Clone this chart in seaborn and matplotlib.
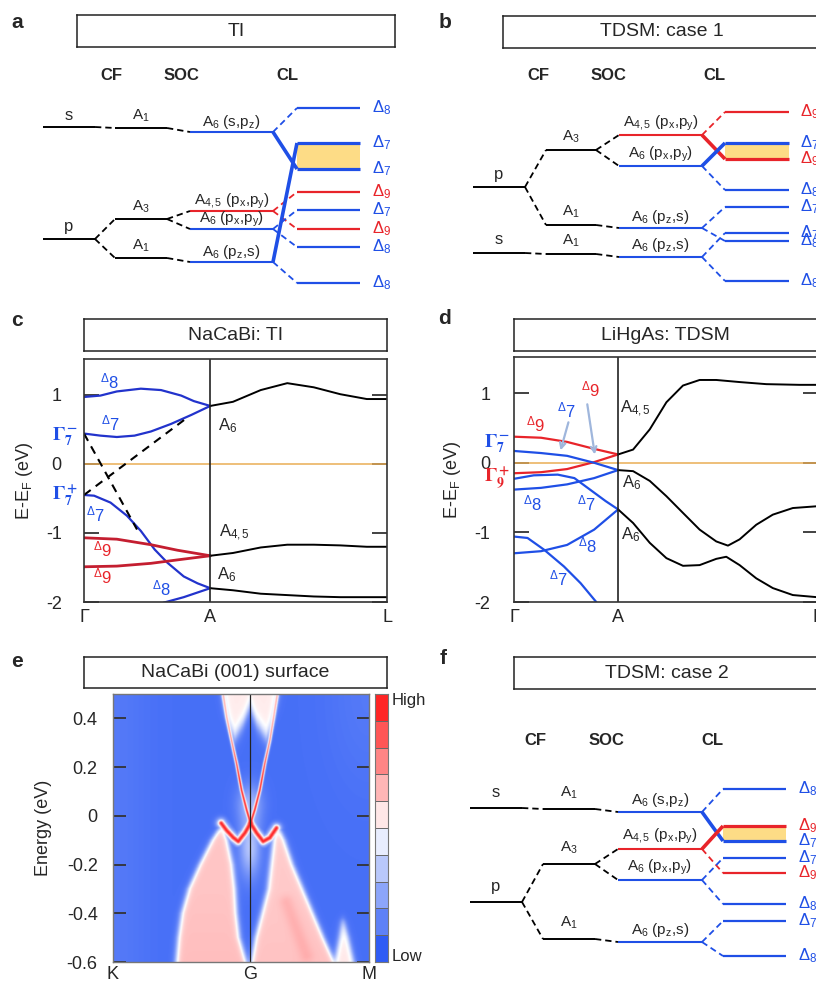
import numpy as np
import matplotlib
matplotlib.use('Agg')
import matplotlib.pyplot as plt
from matplotlib.colors import LinearSegmentedColormap, ListedColormap
import seaborn as sns

sns.set_style('white')
plt.rcParams['font.family'] = ['Liberation Sans', 'DejaVu Sans']
plt.rcParams['mathtext.fontset'] = 'custom'
plt.rcParams['mathtext.rm'] = 'Liberation Sans'
plt.rcParams['mathtext.it'] = 'Liberation Sans:italic'
plt.rcParams['mathtext.bf'] = 'Liberation Sans:bold'
plt.rcParams['mathtext.default'] = 'regular'
plt.rcParams['axes.unicode_minus'] = False

W, H = 816, 988
BLUE = '#1f4fe6'
RED = '#e8242a'
BAND_BLUE = '#2233cc'
BAND_RED = '#c41e30'
GAP = '#fddc86'
FERMI = '#e9ad55'
ARROW = '#9fb6dc'
COL = {'k': 'black', 'b': BLUE, 'r': RED}

# ---------------- level diagrams (energies in arbitrary units) ----------------
# panel a: TI
A_ATOM_E = [16.3, 5.1]
A_ATOM_LAB = ['s', 'p']
A_CF_E = [16.2, 7.1, 3.2]
A_CF_LAB = ['A$_1$', 'A$_3$', 'A$_1$']
A_SOC_E = [15.8, 7.9, 6.1, 2.8]
A_SOC_LAB = ['A$_6$ (s,p$_z$)', 'A$_{4,5}$ (p$_x$,p$_y$)', 'A$_6$ (p$_x$,p$_y$)', 'A$_6$ (p$_z$,s)']
A_SOC_COL = ['b', 'r', 'b', 'b']
A_CL_E = [18.2, 14.7, 12.1, 9.8, 8.0, 6.1, 4.3, 0.7]
A_CL_LAB = ['8', '7', '7', '9', '7', '9', '8', '8']
A_CL_COL = ['b', 'b', 'b', 'r', 'b', 'r', 'b', 'b']
A_LINK_AC = [(0, 0), (1, 1), (1, 2)]
A_LINK_CS = [(0, 0), (1, 1), (1, 2), (2, 3)]
A_LINK_SL = [(0, 0, 'd'), (0, 2, 's'), (1, 3, 'd'), (1, 5, 'd'),
             (2, 4, 'd'), (2, 6, 'd'), (3, 1, 's'), (3, 7, 'd')]

# panel b: TDSM case 1
B_ATOM_E = [10.3, 3.7]
B_ATOM_LAB = ['p', 's']
B_CF_E = [14.0, 6.5, 3.6]
B_CF_LAB = ['A$_3$', 'A$_1$', 'A$_1$']
B_SOC_E = [15.5, 12.4, 6.2, 3.3]
B_SOC_LAB = ['A$_{4,5}$ (p$_x$,p$_y$)', 'A$_6$ (p$_x$,p$_y$)', 'A$_6$ (p$_z$,s)', 'A$_6$ (p$_z$,s)']
B_SOC_COL = ['r', 'b', 'b', 'b']
B_CL_E = [17.8, 14.7, 13.1, 10.0, 8.3, 5.7, 4.9, 0.9]
B_CL_LAB = ['9', '7', '9', '8', '7', '7', '8', '8']
B_CL_COL = ['r', 'b', 'r', 'b', 'b', 'b', 'b', 'b']
B_LINK_AC = [(0, 0), (0, 1), (1, 2)]
B_LINK_CS = [(0, 0), (0, 1), (1, 2), (2, 3)]
B_LINK_SL = [(0, 0, 'd'), (0, 2, 's'), (1, 1, 's'), (1, 3, 'd'),
             (2, 4, 'd'), (2, 6, 'd'), (3, 5, 'd'), (3, 7, 'd')]

# panel f: TDSM case 2
F_ATOM_E = [16.2, 6.8]
F_ATOM_LAB = ['s', 'p']
F_CF_E = [16.1, 10.6, 3.1]
F_CF_LAB = ['A$_1$', 'A$_3$', 'A$_1$']
F_SOC_E = [15.8, 12.1, 9.0, 2.8]
F_SOC_LAB = ['A$_6$ (s,p$_z$)', 'A$_{4,5}$ (p$_x$,p$_y$)', 'A$_6$ (p$_x$,p$_y$)', 'A$_6$ (p$_z$,s)']
F_SOC_COL = ['b', 'r', 'b', 'b']
F_CL_E = [18.1, 14.4, 12.9, 11.2, 9.7, 6.6, 4.9, 1.4]
F_CL_LAB = ['8', '9', '7', '7', '9', '8', '7', '8']
F_CL_COL = ['b', 'r', 'b', 'b', 'r', 'b', 'b', 'b']
F_LINK_AC = [(0, 0), (1, 1), (1, 2)]
F_LINK_CS = [(0, 0), (1, 1), (1, 2), (2, 3)]
F_LINK_SL = [(0, 0, 'd'), (0, 2, 's'), (1, 1, 's'), (1, 4, 'd'),
             (2, 3, 'd'), (2, 5, 'd'), (3, 6, 'd'), (3, 7, 'd')]

# ---------------- band structures ----------------
# panel c: NaCaBi (Gamma=0, A=1, L=2.40)
C_D8_K = [0, 0.13, 0.26, 0.45, 0.61, 0.77, 0.87, 1.0]
C_D8_E = [0.97, 0.99, 1.05, 1.09, 1.07, 0.99, 0.91, 0.84]
C_D7U_K = [0, 0.13, 0.26, 0.40, 0.53, 0.69, 0.85, 1.0]
C_D7U_E = [0.44, 0.41, 0.39, 0.41, 0.47, 0.58, 0.71, 0.84]
C_D7L_K = [0, 0.08, 0.21, 0.34, 0.45, 0.56, 0.66, 0.79, 0.90, 1.0]
C_D7L_E = [-0.45, -0.46, -0.56, -0.75, -0.97, -1.24, -1.43, -1.63, -1.73, -1.80]
C_D9_K = [0, 0.26, 0.53, 0.74, 1.0]
C_D9U_E = [-1.07, -1.09, -1.17, -1.25, -1.33]
C_D9L_E = [-1.49, -1.48, -1.44, -1.39, -1.33]
C_D8L_K = [0.63, 0.79, 1.0]
C_D8L_E = [-2.01, -1.93, -1.80]
C_AL_K = [1.0, 1.18, 1.40, 1.61, 1.82, 2.03, 2.24, 2.40]
C_AL_TOP = [0.84, 0.90, 1.07, 1.17, 1.11, 1.01, 0.94, 0.94]
C_AL_MID = [-1.33, -1.29, -1.21, -1.17, -1.17, -1.18, -1.20, -1.20]
C_AL_BOT = [-1.80, -1.83, -1.88, -1.90, -1.92, -1.93, -1.93, -1.93]
C_DASH1_K, C_DASH1_E = [0, 0.42], [0.44, -0.95]
C_DASH2_K, C_DASH2_E = [0, 0.81], [-0.45, 0.66]

# panel d: LiHgAs (Gamma=0, A=1, L=2.905)
D_GA_K = [0, 0.26, 0.51, 0.77, 1.0]
D_D9U_E = [0.375, 0.36, 0.30, 0.20, 0.12]
D_G7_E = [0.17, 0.14, 0.10, 0.0, -0.105]
D_G9_E = [-0.15, -0.135, -0.09, 0.01, 0.12]
D_D8U_E = [-0.385, -0.36, -0.31, -0.22, -0.105]
D_D8L_E = [-1.30, -1.27, -1.18, -0.96, -0.67]
D_D7M_K = [0, 0.19, 0.42, 0.58, 0.73, 0.88, 1.0]
D_D7M_E = [-0.23, -0.18, -0.17, -0.22, -0.385, -0.55, -0.67]
D_D7L_K = [0, 0.13, 0.29, 0.48, 0.64, 0.79]
D_D7L_E = [-1.06, -1.08, -1.25, -1.49, -1.73, -2.0]
D_AL_K1 = [1.0, 1.144, 1.304, 1.464, 1.623, 1.783, 1.943, 2.167, 2.423, 2.742, 2.905]
D_AL_TOP = [0.12, 0.19, 0.48, 0.87, 1.11, 1.19, 1.19, 1.16, 1.13, 1.12, 1.12]
D_AL_K2 = [1.0, 1.144, 1.304, 1.464, 1.623, 1.783, 1.943, 2.055, 2.167, 2.327, 2.486, 2.678, 2.905]
D_AL_MID = [-0.105, -0.12, -0.26, -0.48, -0.72, -0.96, -1.13, -1.19, -1.10, -0.89, -0.745, -0.65, -0.625]
D_AL_K3 = [1.0, 1.144, 1.304, 1.464, 1.623, 1.783, 1.943, 2.039, 2.167, 2.327, 2.486, 2.678, 2.905]
D_AL_BOT = [-0.67, -0.865, -1.15, -1.37, -1.48, -1.47, -1.38, -1.35, -1.47, -1.66, -1.80, -1.90, -1.93]

# ---------------- surface spectrum features (K=0, G=1, M=1.87) ----------------
LOBE_L_E = [-0.6, -0.5, -0.4, -0.3, -0.2, -0.1, -0.035]
LOBE_L_OUT = [0.46, 0.475, 0.50, 0.55, 0.63, 0.72, 0.795]
LOBE_L_IN = [0.975, 0.925, 0.905, 0.895, 0.875, 0.838, 0.795]
LOBE_R_E = [-0.6, -0.5, -0.4, -0.3, -0.2, -0.1, -0.04]
LOBE_R_IN = [1.01, 1.04, 1.085, 1.13, 1.15, 1.17, 1.205]
LOBE_R_OUT = [1.62, 1.54, 1.465, 1.39, 1.315, 1.255, 1.205]
BUMP_E = [-0.6, -0.5, -0.42]
BUMP_KL = [1.62, 1.655, 1.68]
BUMP_KR = [1.76, 1.72, 1.68]
CAP_K = [0.80, 0.85, 0.89, 0.95, 1.0, 1.05, 1.12, 1.16, 1.21]
CAP_E = [0.40, 0.35, 0.32, 0.38, 0.45, 0.38, 0.32, 0.35, 0.42]
SS_UL_K = [1.005, 0.976, 0.939, 0.903, 0.866, 0.83, 0.805]
SS_UL_E = [-0.03, 0.025, 0.106, 0.215, 0.31, 0.405, 0.494]
SS_UR_K = [1.005, 1.036, 1.073, 1.109, 1.146, 1.175, 1.20]
SS_UR_E = [-0.03, 0.025, 0.106, 0.215, 0.31, 0.405, 0.494]
SS_LL_K = [1.005, 0.964, 0.915, 0.88, 0.83, 0.79]
SS_LL_E = [-0.03, -0.07, -0.105, -0.09, -0.06, -0.03]
SS_LR_K = [1.005, 1.049, 1.097, 1.146, 1.195]
SS_LR_E = [-0.03, -0.07, -0.105, -0.09, -0.05]
STRIPE_K = [1.268, 1.414]
STRIPE_E = [-0.356, -0.574]

CMAP = LinearSegmentedColormap.from_list('bwr_s', ['#1a4cf5', '#ffffff', '#ff0f0f'])

fig = plt.figure(figsize=(W / 100, H / 100), dpi=100)


def px_axes(x0, y0, x1, y1):
    return fig.add_axes([x0 / W, 1 - y1 / H, (x1 - x0) / W, (y1 - y0) / H])


def ftxt(x, y, s, **kw):
    fig.text(x / W, 1 - y / H, s, **kw)


def title_box(x0, y0, x1, y1, text):
    ax = px_axes(x0, y0, x1, y1)
    ax.set_xticks([])
    ax.set_yticks([])
    for sp in ax.spines.values():
        sp.set_color('#222222')
        sp.set_linewidth(1.1)
    ax.text(0.5, 0.5, text, ha='center', va='center', fontsize=14, transform=ax.transAxes)


def diagram(ax, cols, stages, labels, colors, links, cl_lab, lab_x, dy, heads, head_y):
    # levels
    lw_lv = [1.4, 1.4, 1.5, 1.6]
    for s, (x0, x1) in enumerate(cols):
        for i, e in enumerate(stages[s]):
            lw = lw_lv[s]
            if s == 3 and i in (1, 2):
                lw = 2.3
            ax.plot([x0, x1], [e, e], color=COL[colors[s][i]], lw=lw, solid_capstyle='butt')
    # connectors
    for s, lk in enumerate(links):
        for item in lk:
            i, j = item[0], item[1]
            style = item[2] if len(item) > 2 else 'd'
            c = COL[colors[s][i]]
            xs = [cols[s][1], cols[s + 1][0]]
            ys = [stages[s][i], stages[s + 1][j]]
            if style == 's':
                ax.plot(xs, ys, color=c, lw=2.6, solid_capstyle='butt', zorder=3)
            else:
                ax.plot(xs, ys, color=c, lw=1.3, ls=(0, (3.5, 2.2)))
    # gap
    x0, x1 = cols[3]
    ax.fill_between([x0, x1], stages[3][2], stages[3][1], color=GAP, lw=0, zorder=0)
    # level labels
    for s in range(3):
        xc = 0.5 * (cols[s][0] + cols[s][1])
        fs = 12 if s == 0 else 11
        for e, t in zip(stages[s], labels[s]):
            ax.text(xc, e + dy[s], t, ha='center', va='center', fontsize=fs)
    for e, t, c in zip(stages[3], cl_lab, colors[3]):
        ax.text(lab_x, e, r'$\mathregular{\Delta_{%s}}$' % t, ha='left', va='center',
                fontsize=12, color=COL[c])
    for x, t in zip(heads, ['CF', 'SOC', 'CL']):
        ax.text(x, head_y, t, ha='center', va='center', fontsize=12, fontweight='bold')
    ax.axis('off')


# ---------------- panel a ----------------
ax_a = px_axes(0, 55, 410, 300)
ax_a.set_xlim(0, 410)
ax_a.set_ylim(-1.0, 23.5)
diagram(ax_a, [(43, 95), (115, 167), (190, 273), (297, 360)],
        [A_ATOM_E, A_CF_E, A_SOC_E, A_CL_E],
        [A_ATOM_LAB, A_CF_LAB, A_SOC_LAB],
        [['k', 'k'], ['k', 'k', 'k'], A_SOC_COL, A_CL_COL],
        [A_LINK_AC, A_LINK_CS, A_LINK_SL], A_CL_LAB, 372,
        [1.2, 1.2, 1.0], [111, 181, 287], 21.4)
title_box(77, 15, 395, 47, 'TI')

# ---------------- panel b ----------------
ax_b = px_axes(410, 55, 830, 300)
ax_b.set_xlim(410, 830)
ax_b.set_ylim(-1.0, 23.5)
diagram(ax_b, [(473, 525), (546, 596), (619, 702), (725, 789)],
        [B_ATOM_E, B_CF_E, B_SOC_E, B_CL_E],
        [B_ATOM_LAB, B_CF_LAB, B_SOC_LAB],
        [['k', 'k'], ['k', 'k', 'k'], B_SOC_COL, B_CL_COL],
        [B_LINK_AC, B_LINK_CS, B_LINK_SL], B_CL_LAB, 800,
        [1.3, 1.3, 1.15], [538, 608, 714], 21.4)
title_box(503, 16, 821, 48, 'TDSM: case 1')

# ---------------- panel f ----------------
ax_f = px_axes(440, 700, 830, 985)
ax_f.set_xlim(440, 830)
ax_f.set_ylim(-1.5, 27)
diagram(ax_f, [(470, 522), (543, 595), (618, 702), (723, 786)],
        [F_ATOM_E, F_CF_E, F_SOC_E, F_CL_E],
        [F_ATOM_LAB, F_CF_LAB, F_SOC_LAB],
        [['k', 'k'], ['k', 'k', 'k'], F_SOC_COL, F_CL_COL],
        [F_LINK_AC, F_LINK_CS, F_LINK_SL], F_CL_LAB, 798,
        [1.6, 1.6, 1.25], [535, 606, 712], 23.0)
title_box(514, 657, 820, 689, 'TDSM: case 2')


# ---------------- band panels ----------------
def band(ax, k, e, color, lw=1.6, **kw):
    sns.lineplot(x=k, y=e, ax=ax, color=color, linewidth=lw, sort=False, estimator=None, **kw)


def band_frame(ax, xmax, lpad):
    ax.set_xlim(0, xmax)
    ax.set_ylim(-2, 1.52)
    ax.axhline(0, color=FERMI, lw=1.1, zorder=1)
    ax.axvline(1, color='#222222', lw=1.2)
    ax.set_yticks([-2, -1, 0, 1])
    ax.set_yticklabels(['-2', '-1', '0', '1'])
    ax.set_xticks([0, 1, xmax])
    ax.set_xticklabels(['Γ', 'A', 'L'])
    ax.tick_params(axis='y', direction='in', length=11, width=1.3, color='#333333',
                   left=True, right=True, labelsize=13, pad=lpad)
    ax.tick_params(axis='x', length=0, labelsize=13, pad=5)
    for sp in ax.spines.values():
        sp.set_color('#333333')
        sp.set_linewidth(1.2)
    ax.set_ylabel('E-E$_F$ (eV)', fontsize=13)


def sm(t):
    return r'$^{\Delta}$' + t


ax_c = px_axes(84, 359, 387, 602)
band(ax_c, C_D8_K, C_D8_E, BAND_BLUE)
band(ax_c, C_D7U_K, C_D7U_E, BAND_BLUE)
band(ax_c, C_D7L_K, C_D7L_E, BAND_BLUE)
band(ax_c, C_D9_K, C_D9U_E, BAND_RED, lw=2.0)
band(ax_c, C_D9_K, C_D9L_E, BAND_RED, lw=2.0)
band(ax_c, C_D8L_K, C_D8L_E, BAND_BLUE)
band(ax_c, C_AL_K, C_AL_TOP, 'black', lw=1.4)
band(ax_c, C_AL_K, C_AL_MID, 'black', lw=1.4)
band(ax_c, C_AL_K, C_AL_BOT, 'black', lw=1.4)
ax_c.plot(C_DASH1_K, C_DASH1_E, color='black', lw=1.5, ls=(0, (4, 3)))
ax_c.plot(C_DASH2_K, C_DASH2_E, color='black', lw=1.5, ls=(0, (4, 3)))
band_frame(ax_c, 2.40, 16)
ax_c.yaxis.set_label_coords(-0.162, 0.5)
for x, y, t, c in [(0.20, 1.19, sm('8'), BLUE), (0.21, 0.58, sm('7'), BLUE),
                   (0.09, -0.73, sm('7'), BLUE), (0.15, -1.24, sm('9'), RED),
                   (0.15, -1.63, sm('9'), RED), (0.61, -1.80, sm('8'), BLUE)]:
    ax_c.text(x, y, t, color=c, fontsize=12, ha='center', va='center')
for x, y, t in [(1.14, 0.56, 'A$_6$'), (1.19, -1.0, 'A$_{4,5}$'), (1.13, -1.60, 'A$_6$')]:
    ax_c.text(x, y, t, fontsize=12, ha='center', va='center')
ax_c.text(-0.15, 0.40, r'$\mathbf{\Gamma_7^-}$', color=BLUE, fontsize=14, ha='center',
          va='center', math_fontfamily='stix', clip_on=False)
ax_c.text(-0.15, -0.46, r'$\mathbf{\Gamma_7^+}$', color=BLUE, fontsize=14, ha='center',
          va='center', math_fontfamily='stix', clip_on=False)
title_box(84, 319, 387, 351, 'NaCaBi: TI')

ax_d = px_axes(514, 357, 818, 602)
band(ax_d, D_GA_K, D_D9U_E, RED)
band(ax_d, D_GA_K, D_G9_E, RED)
band(ax_d, D_GA_K, D_G7_E, BLUE)
band(ax_d, D_GA_K, D_D8U_E, BLUE)
band(ax_d, D_GA_K, D_D8L_E, BLUE)
band(ax_d, D_D7M_K, D_D7M_E, BLUE)
band(ax_d, D_D7L_K, D_D7L_E, BLUE)
band(ax_d, D_AL_K1, D_AL_TOP, 'black', lw=1.4)
band(ax_d, D_AL_K2, D_AL_MID, 'black', lw=1.4)
band(ax_d, D_AL_K3, D_AL_BOT, 'black', lw=1.4)
band_frame(ax_d, 2.92, 17)
ax_d.yaxis.set_label_coords(-0.168, 0.5)
for x, y, t, c in [(0.73, 1.06, sm('9'), RED), (0.50, 0.75, sm('7'), BLUE),
                   (0.21, 0.55, sm('9'), RED), (0.18, -0.58, sm('8'), BLUE),
                   (0.70, -0.58, sm('7'), BLUE), (0.71, -1.19, sm('8'), BLUE),
                   (0.43, -1.66, sm('7'), BLUE)]:
    ax_d.text(x, y, t, color=c, fontsize=12, ha='center', va='center')
for x, y, t in [(1.17, 0.77, 'A$_{4,5}$'), (1.13, -0.29, 'A$_6$'), (1.12, -1.03, 'A$_6$')]:
    ax_d.text(x, y, t, fontsize=12, ha='center', va='center')
ax_d.annotate('', xy=(0.44, 0.14), xytext=(0.53, 0.62),
              arrowprops=dict(arrowstyle='->', color=ARROW, lw=1.6))
ax_d.annotate('', xy=(0.78, 0.08), xytext=(0.70, 0.88),
              arrowprops=dict(arrowstyle='->', color=ARROW, lw=1.6))
ax_d.text(-0.16, 0.27, r'$\mathbf{\Gamma_7^-}$', color=BLUE, fontsize=14, ha='center',
          va='center', math_fontfamily='stix', clip_on=False)
ax_d.text(-0.16, -0.22, r'$\mathbf{\Gamma_9^+}$', color=RED, fontsize=14, ha='center',
          va='center', math_fontfamily='stix', clip_on=False)
title_box(514, 319, 817, 351, 'LiHgAs: TDSM')

# ---------------- panel e: surface spectral function ----------------
gk = np.linspace(0, 1.87, 561)
ge = np.linspace(-0.6, 0.5, 441)
KK, EE = np.meshgrid(gk, ge)


def sig(z):
    return 1 / (1 + np.exp(-np.clip(z, -50, 50)))


def dist_to_path(kp, ep):
    kp = np.asarray(kp) * 137.0
    ep = np.asarray(ep) * 245.0
    X, Y = KK * 137.0, EE * 245.0
    d = np.full(KK.shape, np.inf)
    for i in range(len(kp) - 1):
        dx, dy = kp[i + 1] - kp[i], ep[i + 1] - ep[i]
        t = np.clip(((X - kp[i]) * dx + (Y - ep[i]) * dy) / (dx * dx + dy * dy), 0, 1)
        d = np.minimum(d, np.hypot(X - kp[i] - t * dx, Y - ep[i] - t * dy))
    return d


spec = np.full(KK.shape, 0.1)
spec += 0.03 * np.exp(-(KK / 0.25) ** 2) + 0.03 * np.exp(-((1.87 - KK) / 0.3) ** 2 - ((0.5 - EE) / 0.4) ** 2)
# light glow between the lobes below the Dirac point and inside the cone
spec += 0.24 * np.exp(-((KK - 1) / 0.075) ** 2 - ((EE + 0.13) / 0.12) ** 2)
spec += 0.18 * np.exp(-((KK - 1) / 0.09) ** 2 - ((EE - 0.05) / 0.08) ** 2)
w = 0.012
kl = np.interp(EE, SS_UL_E, SS_UL_K)
kr = np.interp(EE, SS_UR_E, SS_UR_K)
cap = np.interp(KK, CAP_K, CAP_E)
m = sig((KK - kl) / w) * sig((kr - KK) / w) * sig((EE - cap) / 0.02)
spec += (0.54 - spec) * m
ko = np.interp(EE, LOBE_L_E, LOBE_L_OUT)
ki = np.interp(EE, LOBE_L_E, LOBE_L_IN)
m = sig((KK - ko) / w) * sig((ki - KK) / w) * sig((LOBE_L_E[-1] - EE) / 0.008)
spec += (0.62 + 0.05 * (-0.3 - EE).clip(0) - spec) * m
ki = np.interp(EE, LOBE_R_E, LOBE_R_IN)
ko = np.interp(EE, LOBE_R_E, LOBE_R_OUT)
m = sig((KK - ki) / w) * sig((ko - KK) / w) * sig((LOBE_R_E[-1] - EE) / 0.008)
spec += (0.61 + 0.05 * (-0.3 - EE).clip(0) - spec) * m
bl = np.interp(EE, BUMP_E, BUMP_KL)
br = np.interp(EE, BUMP_E, BUMP_KR)
m = sig((KK - bl) / w) * sig((br - KK) / w) * sig((BUMP_E[-1] - EE) / 0.008)
spec += (0.55 - spec) * m
spec += 0.045 * np.exp(-(dist_to_path(STRIPE_K, STRIPE_E) / 7) ** 2)
# surface states: upper branches thin and fading, lower branches strong
for kp, ep in [(SS_UL_K, SS_UL_E), (SS_UR_K, SS_UR_E)]:
    d = dist_to_path(kp, ep)
    amp = np.clip(1.0 - (EE - 0.15) / 0.6, 0.55, 1.0)
    spec += (0.93 - spec) * amp * np.exp(-(d / 1.5) ** 2)
for kp, ep in [(SS_LL_K, SS_LL_E), (SS_LR_K, SS_LR_E)]:
    d = dist_to_path(kp, ep)
    halo = 0.1 + 0.36 * np.exp(-(d / 5.0) ** 2)
    spec = np.where(spec < 0.5, np.maximum(spec, halo), spec)
    spec += (0.95 - spec) * np.exp(-(d / 2.4) ** 2)

ax_e = px_axes(113, 694, 369, 962)
ax_e.imshow(spec, extent=[0, 1.87, -0.6, 0.5], origin='lower', aspect='auto', cmap=CMAP,
            vmin=0, vmax=1, interpolation='bilinear')
ax_e.axvline(1, color='#222222', lw=0.9)
ax_e.set_xlim(0, 1.87)
ax_e.set_ylim(-0.6, 0.5)
ax_e.set_yticks([-0.6, -0.4, -0.2, 0, 0.2, 0.4])
ax_e.set_yticklabels(['-0.6', '-0.4', '-0.2', '0', '0.2', '0.4'])
ax_e.set_xticks([0, 1, 1.87])
ax_e.set_xticklabels(['K', 'G', 'M'])
ax_e.tick_params(axis='y', direction='in', length=9, width=1.3, color='#333333',
                 left=True, right=True, labelsize=13, pad=11)
ax_e.tick_params(axis='x', length=0, labelsize=13, pad=3)
for sp in ax_e.spines.values():
    sp.set_color('#777777')
    sp.set_linewidth(1.0)
ax_e.set_ylabel('Energy (eV)', fontsize=13)
ax_e.yaxis.set_label_coords(-0.238, 0.5)
title_box(84, 657, 387, 688, 'NaCaBi (001) surface')

ax_cb = px_axes(375, 694, 388, 962)
steps = CMAP((np.arange(10) + 0.5) / 10)
ax_cb.imshow(np.arange(10)[:, None], origin='lower', aspect='auto',
             cmap=ListedColormap(steps), extent=[0, 1, 0, 10])
ax_cb.hlines(range(1, 10), 0, 1, colors='#666666', lw=0.7)
ax_cb.set_xticks([])
ax_cb.set_yticks([])
for sp in ax_cb.spines.values():
    sp.set_color('#777777')
    sp.set_linewidth(0.8)
ftxt(392, 701, 'High', fontsize=12, ha='left', va='center')
ftxt(392, 956, 'Low', fontsize=12, ha='left', va='center')

# panel letters
for x, y, t in [(17, 23, 'a'), (445, 23, 'b'), (17, 320, 'c'), (445, 318, 'd'),
                (17, 661, 'e'), (443, 658, 'f')]:
    ftxt(x, y, t, fontsize=15, fontweight='bold', ha='center', va='center')

fig.savefig('out.png', dpi=100)
